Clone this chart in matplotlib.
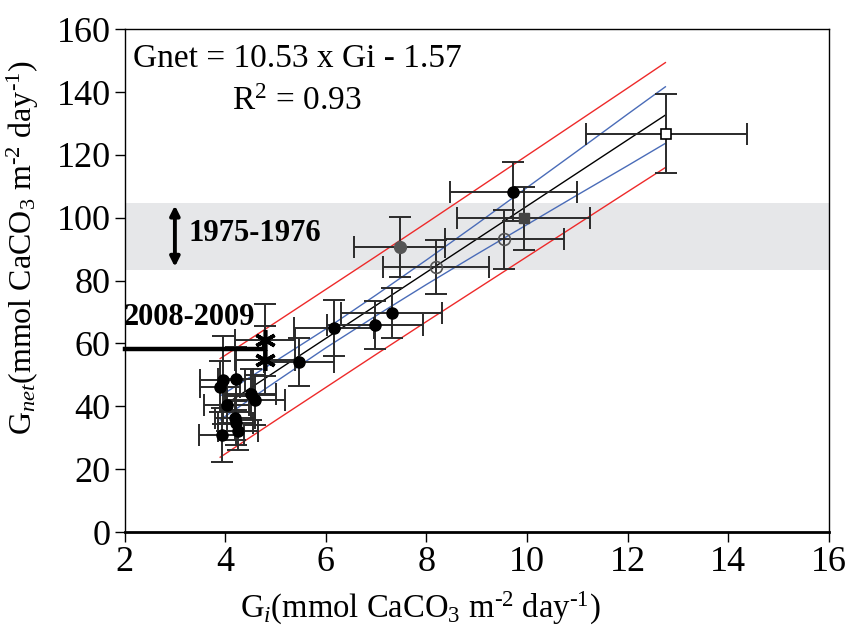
import numpy as np
import matplotlib
matplotlib.use('Agg')
import matplotlib.pyplot as plt

plt.rcParams['font.family'] = 'Liberation Serif'
plt.rcParams['mathtext.fontset'] = 'custom'
plt.rcParams['mathtext.rm'] = 'Liberation Serif'
plt.rcParams['mathtext.it'] = 'Liberation Serif:italic'
plt.rcParams['mathtext.bf'] = 'Liberation Serif:bold'

# puntos negros (rellenos)
gi_neg = [3.95, 4.21, 3.90, 4.51, 4.59, 4.03, 4.19, 4.21, 3.93, 4.26, 5.47, 6.16, 6.98, 7.31, 9.73]
gnet_neg = [48.5, 48.8, 46.3, 43.8, 41.9, 40.3, 36.4, 34.7, 30.8, 32.2, 54.1, 64.9, 65.9, 69.6, 108.3]
xerr_neg = [0.45, 0.35, 0.4, 0.5, 0.6, 0.45, 0.4, 0.35, 0.45, 0.4, 0.7, 0.8, 0.95, 1.0, 1.26]
yerr_neg = [14, 10, 8, 8, 8, 8, 7, 7, 8.6, 6, 7.5, 9, 7.5, 8, 9.3]

# 2008-2009 (asteriscos)
gi_ast = [4.79, 4.79]
gnet_ast = [61.0, 54.6]
xerr_ast = [0.6, 0.6]
yerr_ast = [11.5, 11.0]

# circulos abiertos
gi_abi = [8.19, 9.55]
gnet_abi = [84.4, 93.1]
xerr_abi = [1.06, 1.18]
yerr_abi = [8.5, 9.3]

# circulo gris, cuadrado gris, cuadrado abierto
gi_gris, gnet_gris, xerr_gris, yerr_gris = 7.47, 90.8, 0.9, 9.5
gi_cg, gnet_cg, xerr_cg, yerr_cg = 9.93, 99.8, 1.33, 10.0
gi_ca, gnet_ca, xerr_ca, yerr_ca = 12.77, 126.8, 1.6, 12.7

# regresion y bandas
pend, ord0 = 10.53, -1.57
x_banda = [3.9, 5, 6, 7, 8, 9, 10, 11, 12, 12.75]
hw_azul = [3.8, 3.3, 3.0, 3.3, 3.9, 4.8, 5.9, 7.0, 8.2, 9.0]
hw_rojo = [15.7, 15.6, 15.6, 15.6, 15.7, 15.9, 16.1, 16.3, 16.5, 16.7]

banda_1975 = (83.5, 104.8)
media_2008 = 58.2

fig = plt.figure(figsize=(8.51, 6.36), dpi=100)
ax = fig.add_axes([0.1464, 0.1635, 0.8276, 0.7905])

ax.axhspan(banda_1975[0], banda_1975[1], color='#e6e7e9', zorder=0, lw=0)

xb = np.array(x_banda)
yb = pend * xb + ord0
ax.plot(xb, yb + np.array(hw_rojo), color='#ee2a2a', lw=1.0, zorder=2)
ax.plot(xb, yb - np.array(hw_rojo), color='#ee2a2a', lw=1.0, zorder=2)
ax.plot(xb, yb + np.array(hw_azul), color='#4a6cb8', lw=1.0, zorder=2)
ax.plot(xb, yb - np.array(hw_azul), color='#4a6cb8', lw=1.0, zorder=2)
ax.plot(xb, yb, color='black', lw=1.0, zorder=2)

eb = dict(fmt='none', ecolor='#2a2a2a', elinewidth=1.4, capsize=8, capthick=1.4, zorder=3)
ax.errorbar(gi_neg, gnet_neg, xerr=xerr_neg, yerr=yerr_neg, **eb)
ax.errorbar(gi_ast, gnet_ast, xerr=xerr_ast, yerr=yerr_ast, **eb)
ax.errorbar(gi_abi, gnet_abi, xerr=xerr_abi, yerr=yerr_abi, **eb)
ax.errorbar([gi_gris, gi_cg, gi_ca], [gnet_gris, gnet_cg, gnet_ca],
            xerr=[xerr_gris, xerr_cg, xerr_ca], yerr=[yerr_gris, yerr_cg, yerr_ca], **eb)

ax.plot(gi_neg, gnet_neg, 'o', color='black', ms=8, zorder=4, ls='none')
ax.plot(gi_ast, gnet_ast, marker=(6, 2, 0), color='black', ms=15, mew=2.6, ls='none', zorder=4)
ax.plot(gi_abi, gnet_abi, 'o', mfc='none', mec='#555555', ms=8.5, mew=1.2, ls='none', zorder=4)
ax.plot([gi_gris], [gnet_gris], 'o', color='#555555', ms=8.5, ls='none', zorder=4)
ax.plot([gi_cg], [gnet_cg], 's', color='#444444', ms=7.5, ls='none', zorder=4)
ax.plot([gi_ca], [gnet_ca], 's', mfc='white', mec='black', ms=7.5, mew=1.2, ls='none', zorder=4)

# linea media 2008-2009
ax.plot([2, 4.77, 4.77], [media_2008, media_2008, gnet_ast[0]], color='black', lw=3.2,
        solid_joinstyle='miter', zorder=3, clip_on=False)

ax.annotate('', xy=(3.0, banda_1975[0]), xytext=(3.0, banda_1975[1]),
            arrowprops=dict(arrowstyle='<|-|>', color='black', lw=2.8, mutation_scale=14))
ax.text(3.27, 94.9, '1975-1976', fontsize=22, fontweight='bold', ha='left', va='center')
ax.text(3.30, 68.3, '2008-2009', fontsize=22, fontweight='bold', ha='center', va='center')

ax.text(2.17, 150.5, 'Gnet = 10.53 x Gi - 1.57', fontsize=24, ha='left', va='center')
ax.text(5.43, 137.1, 'R$^2$ = 0.93', fontsize=24, ha='center', va='center')

ax.set_xlim(2, 16)
ax.set_ylim(0, 160)
ax.set_xticks(range(2, 17, 2))
ax.set_yticks(range(0, 161, 20))
ax.tick_params(axis='both', direction='out', length=7, width=1, labelsize=26, pad=3)
for s in ax.spines.values():
    s.set_linewidth(1.0)
ax.spines['bottom'].set_linewidth(2.0)

ax.set_xlabel('G$_{i}$(mmol CaCO$_3$ m$^{\u2010 2}$ day$^{\u2010 1}$)', fontsize=23.5)
ax.set_ylabel('G$_{net}$(mmol CaCO$_3$ m$^{\u2010 2}$ day$^{\u2010 1}$)', fontsize=23)
ax.xaxis.set_label_coords(0.42, -0.115)
ax.yaxis.set_label_coords(-0.118, 0.565)

fig.savefig('out.png', dpi=100)
